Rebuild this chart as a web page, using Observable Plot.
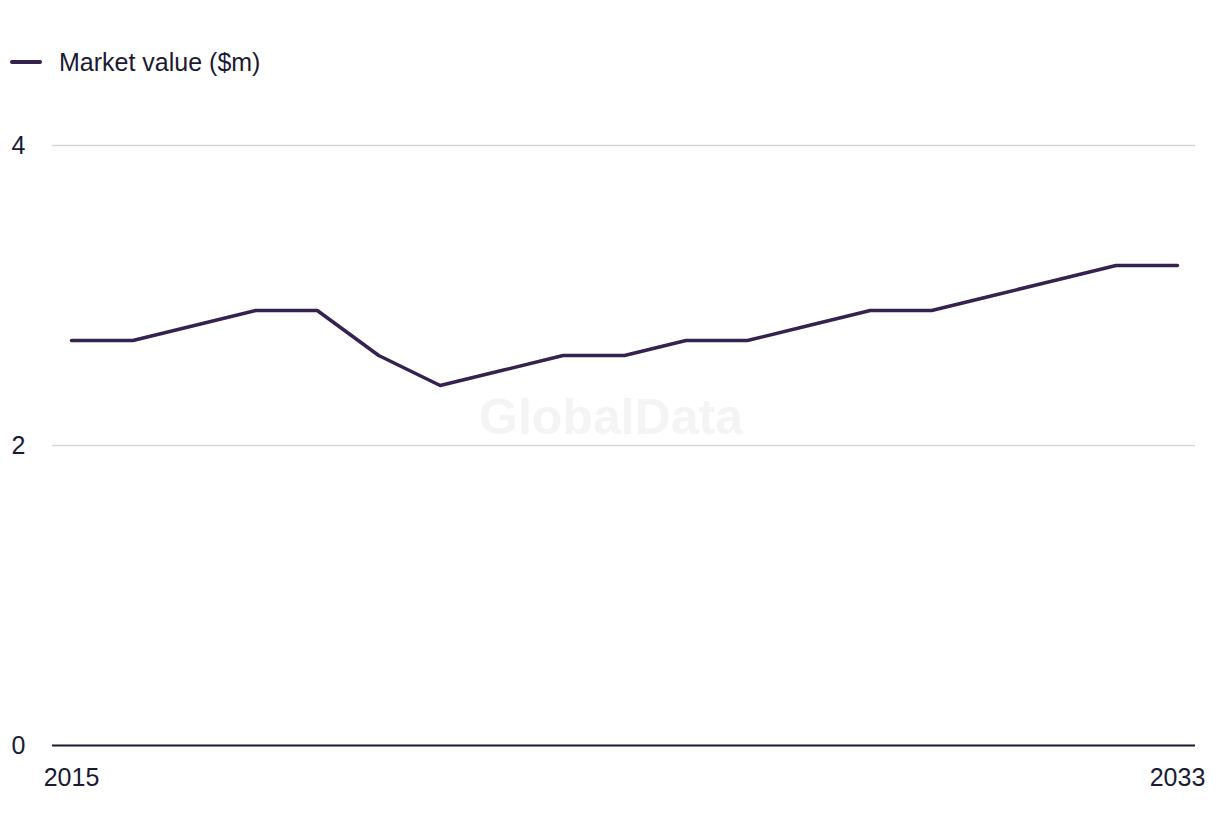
<!DOCTYPE html>
<html>
<head>
<meta charset="utf-8">
<script src="https://cdn.jsdelivr.net/npm/d3@7"></script>
<script src="https://cdn.jsdelivr.net/npm/@observablehq/plot@0.6"></script>
<style>
  html, body { margin: 0; padding: 0; background: #fff; }
  #wrap { position: relative; width: 1220px; height: 836px; font-family: "Liberation Sans", Arial, sans-serif; color: #1b1a33; }
  #legend { position: absolute; left: 10px; top: 46px; display: flex; align-items: center; font-size: 25px; line-height: 32px; }
  #legend .sw { width: 32px; height: 4px; background: #34224f; border-radius: 2px; margin-right: 17px; }
  #chart { position: absolute; left: 0; top: 0; }
</style>
</head>
<body>
<div id="wrap">
  <div id="chart"></div>
  <div id="legend"><span class="sw"></span><span>Market value ($m)</span></div>
</div>
<script>
const years = [2015, 2016, 2017, 2018, 2019, 2020, 2021, 2022, 2023, 2024, 2025, 2026, 2027, 2028, 2029, 2030, 2031, 2032, 2033];
const marketValue = [2.7, 2.7, 2.8, 2.9, 2.9, 2.6, 2.4, 2.5, 2.6, 2.6, 2.7, 2.7, 2.8, 2.9, 2.9, 3.0, 3.1, 3.2, 3.2];
const yTicks = [0, 2, 4];
const xTicks = [2015, 2033];
const seriesName = "Market value ($m)";
const watermark = "GlobalData";

const data = years.map((y, i) => ({year: y, value: marketValue[i]}));

const chart = Plot.plot({
  width: 1220,
  height: 836,
  marginTop: 145,
  marginBottom: 91,
  marginLeft: 52,
  marginRight: 25,
  style: {fontFamily: "Liberation Sans, Arial, sans-serif", fontSize: "25px", color: "#1b1a33", background: "transparent"},
  x: {domain: [2015, 2033], range: [71, 1177]},
  y: {domain: [0, 4]},
  marks: [
    Plot.ruleY(yTicks.filter(d => d !== 0), {stroke: "#d6d6d9", strokeWidth: 1.5}),
    Plot.text([watermark], {frameAnchor: "middle", dx: -13, dy: -28, fontSize: 50, fontWeight: "bold", fill: "#f4f4f5"}),
    Plot.ruleY([0], {stroke: "#1b1a33", strokeWidth: 2}),
    Plot.line(data, {x: "year", y: "value", stroke: "#34224f", strokeWidth: 3.5, strokeLinejoin: "miter"}),
    Plot.axisY(yTicks, {tickSize: 0, tickPadding: 27, fontSize: 25, fill: "#1b1a33", tickFormat: d => String(d), label: null}),
    Plot.axisX(xTicks, {tickSize: 0, tickPadding: 23, fontSize: 25, fill: "#1b1a33", tickFormat: d => String(d), label: null})
  ]
});
document.getElementById("chart").appendChild(chart);
</script>
</body>
</html>
